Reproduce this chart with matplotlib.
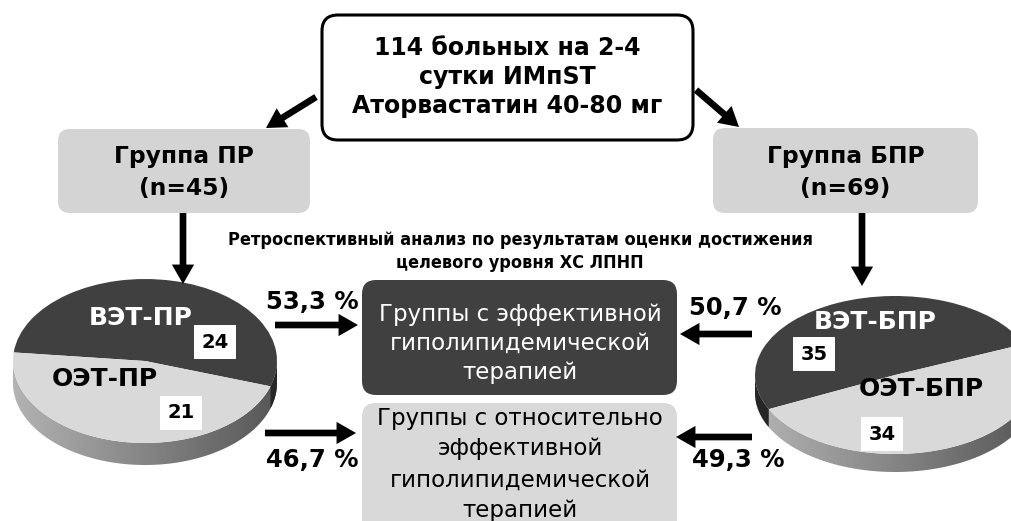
import numpy as np
import matplotlib
matplotlib.use("Agg")
import matplotlib.pyplot as plt
from matplotlib.patches import FancyBboxPatch, FancyArrowPatch, Polygon, ArrowStyle
from matplotlib.transforms import Affine2D
from matplotlib import font_manager as fm

# ---- data ----
header_lines = ["114 больных на 2-4", "сутки ИМпST", "Аторвастатин 40-80 мг"]
group_names = ["Группа ПР", "Группа БПР"]
group_sizes = [45, 69]
slice_labels_left = ["ВЭТ-ПР", "ОЭТ-ПР"]
slice_values_left = [24, 21]
slice_labels_right = ["ВЭТ-БПР", "ОЭТ-БПР"]
slice_values_right = [35, 34]
pct_left = ["53,3 %", "46,7 %"]
pct_right = ["50,7 %", "49,3 %"]
analysis_text = ["Ретроспективный анализ по результатам оценки достижения",
                 "целевого уровня ХС ЛПНП"]
effective_lines = ["Группы с эффективной", "гиполипидемической", "терапией"]
relative_lines = ["Группы с относительно", "эффективной", "гиполипидемической", "терапией"]

DARK = "#404040"
LIGHT = "#d9d9d9"
BOX_GRAY = "#d4d4d4"

names = {f.name for f in fm.fontManager.ttflist}
if "Liberation Sans Narrow" in names:
    NARROW = dict(family="Liberation Sans Narrow")
else:
    NARROW = dict(family="DejaVu Sans", fontstretch="condensed")

fig = plt.figure(figsize=(10.11, 5.21), dpi=100)
ax = fig.add_axes([0, 0, 1, 1])
ax.set_xlim(0, 1011)
ax.set_ylim(521, 0)
ax.axis("off")


def rbox(x0, y0, x1, y1, fc, ec="none", lw=0, r=12, z=1):
    p = FancyBboxPatch((x0, y0), x1 - x0, y1 - y0,
                       boxstyle=f"round,pad=0,rounding_size={r}",
                       fc=fc, ec=ec, lw=lw, zorder=z)
    ax.add_patch(p)


def arrow(p0, p1, tw=4.8, hw=16, hl=14):
    a = FancyArrowPatch(p0, p1, arrowstyle=ArrowStyle.Simple(head_length=hl, head_width=hw, tail_width=tw),
                        mutation_scale=1, color="black", lw=0, shrinkA=0, shrinkB=0, zorder=5)
    ax.add_patch(a)


def pie3d(cx, cy, a, b, depth, values, start):
    # side of the cylinder with horizontal shading
    t = np.linspace(np.pi, 2 * np.pi, 240)
    ux = cx + a * np.cos(t)
    uy = cy - b * np.sin(t)
    side = np.vstack([np.column_stack([ux, uy]),
                      np.column_stack([ux[::-1], uy[::-1] + depth])])
    clip = Polygon(side, closed=True, fc="none", ec="none", transform=ax.transData)
    ax.add_patch(clip)
    u = np.linspace(0, 1, 400)
    grad = 0.70 - 0.36 * u
    im = ax.imshow(grad[None, :], cmap="gray", vmin=0, vmax=1, aspect="auto",
                   extent=(cx - a, cx + a, cy + b + depth + 2, cy - 2), zorder=2)
    im.set_clip_path(clip)
    # darker side under the first (dark) slice
    th1 = start
    th2 = start + 360.0 * values[0] / sum(values)
    tt = np.linspace(th1, th2, 400) % 360
    tt = np.sort(tt[(tt >= 180) & (tt <= 360)])
    if tt.size > 1:
        r = np.radians(tt)
        dx = cx + a * np.cos(r)
        dy = cy - b * np.sin(r)
        poly = np.vstack([np.column_stack([dx, dy]),
                          np.column_stack([dx[::-1], dy[::-1] + depth])])
        ax.add_patch(Polygon(poly, closed=True, fc="#262626", ec="none", zorder=3))
    # top surface
    wedges, _ = ax.pie(values, colors=[DARK, LIGHT], startangle=start, counterclock=True,
                       radius=1, center=(0, 0), frame=True,
                       wedgeprops=dict(lw=0))
    tr = Affine2D().scale(a, -b).translate(cx, cy) + ax.transData
    for w in wedges:
        w.set_transform(tr)
        w.set_zorder(4)


# top box
rbox(322, 15, 693, 140, "white", ec="black", lw=2.2, r=16, z=2)
for i, line in enumerate(header_lines):
    ax.text(507.5, 48 + 29 * i, line, ha="center", va="center", fontsize=17,
            fontweight="bold", zorder=6)

# group boxes
rbox(58, 129, 310, 213, BOX_GRAY, r=12)
rbox(713, 128, 978, 213, BOX_GRAY, r=12)
for cx, name, n in [(184, group_names[0], group_sizes[0]), (845.5, group_names[1], group_sizes[1])]:
    ax.text(cx, 157, name, ha="center", va="center", fontsize=16.8, fontweight="bold", zorder=6)
    ax.text(cx, 188, f"(n={n})", ha="center", va="center", fontsize=16.8, fontweight="bold", zorder=6)

# arrows from the top box
arrow((316, 97), (266, 128))
arrow((696, 90), (739, 127))
# arrows down to the pies
arrow((183, 213), (183, 284))
arrow((862, 213), (862, 286))

# analysis caption, sized so the first line spans about 583 px
cap_texts = []
for i, line in enumerate(analysis_text):
    cap_texts.append(ax.text(520, 240 + 23 * i, line, ha="center", va="center", fontsize=14.5,
                             fontweight="bold", zorder=6, **NARROW))
fig.canvas.draw()
w0 = cap_texts[0].get_window_extent().width
scale = min(1.0, 583.0 / w0)
for t in cap_texts:
    t.set_fontsize(14.5 * scale)

# result boxes
rbox(362, 280, 677, 395, DARK, r=14)
rbox(362, 403, 677, 560, LIGHT, r=14)
for i, line in enumerate(effective_lines):
    ax.text(520, 315 + 28.5 * i, line, ha="center", va="center", fontsize=16.5,
            color="white", zorder=6)
for i, line in enumerate(relative_lines):
    ax.text(520, 418 + 31 * i, line, ha="center", va="center", fontsize=16.5,
            color="black", zorder=6)

# pies
pie3d(145, 361, 132, 82, 22, slice_values_left, -18)
pie3d(895, 375, 140, 79, 18, slice_values_right, 23)

# slice labels
ax.text(141, 318, slice_labels_left[0], ha="center", va="center", fontsize=18,
        fontweight="bold", color="white", zorder=7)
ax.text(105, 379, slice_labels_left[1], ha="center", va="center", fontsize=18,
        fontweight="bold", color="black", zorder=7)
ax.text(875, 322, slice_labels_right[0], ha="center", va="center", fontsize=18,
        fontweight="bold", color="white", zorder=7)
ax.text(921, 389, slice_labels_right[1], ha="center", va="center", fontsize=18,
        fontweight="bold", color="black", zorder=7)

numbox = dict(boxstyle="square,pad=0.38", fc="white", ec="none")
for (x, y), v in zip([(215, 342), (181, 413), (814, 354), (882, 434)],
                     slice_values_left + slice_values_right):
    ax.text(x, y, str(v), ha="center", va="center", fontsize=14, fontweight="bold",
            bbox=numbox, zorder=8)

# percentages and arrows to the result boxes
ax.text(312, 302, pct_left[0], ha="center", va="center", fontsize=17.5, fontweight="bold", zorder=6)
ax.text(312, 460, pct_left[1], ha="center", va="center", fontsize=17.5, fontweight="bold", zorder=6)
ax.text(735, 308, pct_right[0], ha="center", va="center", fontsize=17.5, fontweight="bold", zorder=6)
ax.text(738, 460, pct_right[1], ha="center", va="center", fontsize=17.5, fontweight="bold", zorder=6)
arrow((275, 325), (358, 325))
arrow((265, 433), (356, 433))
arrow((752, 334), (680, 334))
arrow((752, 437), (676, 437))

ax.set_xlim(0, 1011)
ax.set_ylim(521, 0)
fig.savefig("out.png", dpi=100)
